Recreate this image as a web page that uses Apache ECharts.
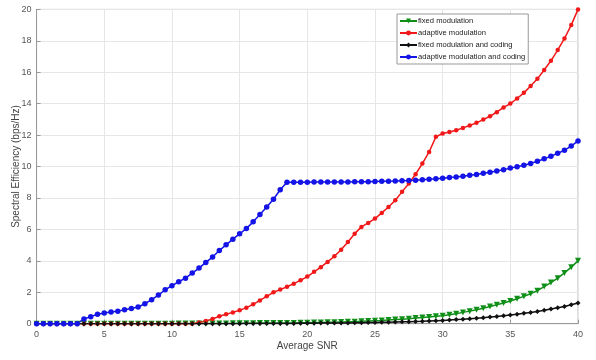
<!DOCTYPE html>
<html>
<head>
<meta charset="utf-8">
<script src="https://cdn.jsdelivr.net/npm/echarts@6/dist/echarts.min.js"></script>
<style>html,body{margin:0;padding:0;background:#fff}#c{width:596px;height:360px}</style>
</head>
<body>
<div id="c"></div>
<script>
const snr = [0,0.5,1,1.5,2,2.5,3,3.5,4,4.5,5,5.5,6,6.5,7,7.5,8,8.5,9,9.5,10,10.5,11,11.5,12,12.5,13,13.5,14,14.5,15,15.5,16,16.5,17,17.5,18,18.5,19,19.5,20,20.5,21,21.5,22,22.5,23,23.5,24,24.5,25,25.5,26,26.5,27,27.5,28,28.5,29,29.5,30,30.5,31,31.5,32,32.5,33,33.5,34,34.5,35,35.5,36,36.5,37,37.5,38,38.5,39,39.5,40];

const fixedMod = [0,0,0,0,0,0,0,0,0,0,0,0,0,0,0,0,0,0,0,0,0,
  0.01,0.01,0.01,0.01,0.02,0.02,0.02,0.02,0.03,0.03,0.03,0.03,0.04,0.04,0.04,0.05,0.05,0.05,0.06,0.06,
  0.07,0.08,0.09,0.1,0.11,0.12,0.13,0.15,0.17,0.19,
  0.21,0.24,0.26,0.29,0.32,0.36,0.39,0.43,0.47,0.51,
  0.57,0.64,0.72,0.8,0.89,0.98,1.09,1.2,1.32,1.45,1.59,1.74,1.91,2.1,2.36,2.62,2.9,3.23,3.6,4.0];

const adaptiveMod = [0,0,0,0,0,0,0,0,0,0,0,0,0,0,0,0,0,0,0,0,0,0,0,0,
  0.08,0.17,0.3,0.47,0.6,0.72,0.85,1.02,1.23,1.48,1.74,2.0,
  2.17,2.35,2.55,2.76,3.0,3.3,3.6,3.93,4.29,4.71,5.2,5.73,
  6.16,6.41,6.69,7.05,7.43,7.86,8.39,8.92,9.51,10.19,10.93,11.89,
  12.1,12.2,12.31,12.46,12.61,12.78,12.99,13.2,13.46,13.76,14.01,14.33,
  14.69,15.12,15.58,16.14,16.73,17.41,18.15,19.0,20.0];

const fixedModCoding = [0,0,0,0,0,0,0,0,0,0,0,0,0,0,0,0,0,0,0,0,0,0,0,0,0,0,0,0,0,0,0,
  0.01,0.01,0.01,0.01,0.02,0.02,0.02,0.02,0.03,0.03,0.03,0.04,0.04,0.04,0.05,0.05,0.06,0.06,0.07,0.08,
  0.09,0.1,0.11,0.12,0.13,0.14,0.15,0.17,0.19,0.21,
  0.23,0.26,0.28,0.31,0.34,0.38,0.42,0.46,0.5,0.55,0.6,0.66,0.72,0.78,0.85,0.93,1.01,1.1,1.2,1.32];

const adaptiveModCoding = [0,0,0,0,0,0,0,
  0.3,0.45,0.6,0.68,0.74,0.8,0.89,0.97,1.06,1.27,1.53,1.82,2.16,2.42,2.67,2.9,3.22,3.54,3.9,4.24,4.66,5.02,5.38,5.72,6.06,6.48,6.95,7.42,7.92,8.52,9.0,
  9.0,9.0,9.0,9.01,9.01,9.01,9.02,9.02,9.02,9.03,9.03,
  9.04,9.05,9.06,9.07,9.08,9.1,9.11,9.13,9.16,9.19,9.22,9.26,9.3,9.34,9.39,9.44,9.5,9.57,9.64,9.72,9.8,9.9,9.99,10.08,10.2,10.34,10.49,10.66,10.84,11.04,11.3,11.63];

const seriesNames = ['fixed modulation','adaptive modulation','fixed modulation and coding','adaptive modulation and coding'];
const xTicks = [0,5,10,15,20,25,30,35,40];
const yTicks = [0,2,4,6,8,10,12,14,16,18,20];

function pairs(vals){ return snr.map((x,i)=>[x, vals[i]]); }

const chart = echarts.init(document.getElementById('c'), null, {renderer:'canvas'});
const labelStyle = {color:'#555', fontSize:9, fontFamily:'Liberation Sans, Arial, sans-serif'};
chart.setOption({
  animation:false,
  backgroundColor:'#fff',
  grid:{left:36.6, right:18, top:9.4, bottom:36.3, containLabel:false, outerBoundsMode:'none', show:true, borderColor:'#bbb', borderWidth:1},
  legend:{
    orient:'vertical', left:397, top:14,
    backgroundColor:'#fff', borderColor:'#999', borderWidth:1, padding:[3,3,3,2],
    itemWidth:17, itemHeight:6, itemGap:4,
    textStyle:{fontSize:7.6, color:'#222', fontFamily:'Liberation Sans, Arial, sans-serif', padding:[0,0,0,-4]},
    data:seriesNames
  },
  xAxis:{
    type:'value', min:0, max:40, interval:5,
    name:'Average SNR', nameLocation:'middle', nameGap:18, nameMoveOverlap:false,
    nameTextStyle:{color:'#444', fontSize:10, fontFamily:'Liberation Sans, Arial, sans-serif'},
    axisLine:{show:true, lineStyle:{color:'#999'}},
    axisTick:{show:true, inside:true, length:4, lineStyle:{color:'#999'}},
    axisLabel:Object.assign({margin:6, formatter:v=> xTicks.indexOf(v)>=0 ? String(v) : ''}, labelStyle),
    splitLine:{show:true, lineStyle:{color:'#e6e6e6', width:1}}
  },
  yAxis:{
    type:'value', min:0, max:20, interval:2,
    name:'Spectral Efficiency (bps/Hz)', nameLocation:'middle', nameGap:15, nameMoveOverlap:false,
    nameTextStyle:{color:'#444', fontSize:10, fontFamily:'Liberation Sans, Arial, sans-serif'},
    axisLine:{show:true, lineStyle:{color:'#999'}},
    axisTick:{show:true, inside:true, length:4, lineStyle:{color:'#999'}},
    axisLabel:Object.assign({margin:5, formatter:v=> yTicks.indexOf(v)>=0 ? String(v) : ''}, labelStyle),
    splitLine:{show:true, lineStyle:{color:'#e6e6e6', width:1}}
  },
  series:[
    {name:seriesNames[0], type:'line', data:pairs(fixedMod), symbol:'triangle', symbolRotate:180, symbolSize:6,
     itemStyle:{color:'#0f8f17'}, lineStyle:{width:1.5, color:'#0f8f17'}},
    {name:seriesNames[1], type:'line', data:pairs(adaptiveMod), symbol:'circle', symbolSize:4.5,
     itemStyle:{color:'#f01818'}, lineStyle:{width:1.5, color:'#f01818'}},
    {name:seriesNames[2], type:'line', data:pairs(fixedModCoding), symbol:'diamond', symbolSize:5,
     itemStyle:{color:'#111'}, lineStyle:{width:1.5, color:'#111'}},
    {name:seriesNames[3], type:'line', data:pairs(adaptiveModCoding), symbol:'circle', symbolSize:5.5,
     itemStyle:{color:'#1414e6'}, lineStyle:{width:1.5, color:'#1414e6'}}
  ]
});
</script>
</body>
</html>
